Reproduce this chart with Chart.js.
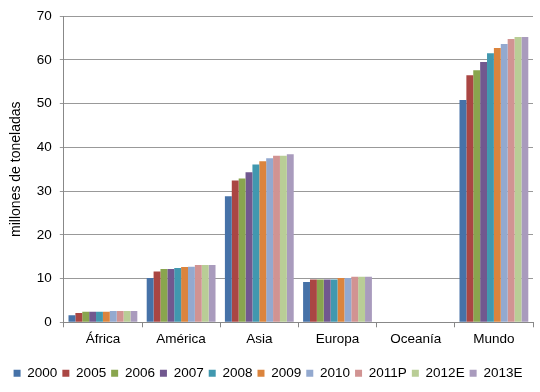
<!DOCTYPE html>
<html>
<head>
<meta charset="utf-8">
<script src="https://cdn.jsdelivr.net/npm/chart.js@4"></script>
<style>
  html, body { margin: 0; padding: 0; background: #fff; }
  #wrap { width: 540px; height: 392px; }
</style>
</head>
<body>
<div id="wrap"><canvas id="myChart" width="540" height="392"></canvas></div>
<script>
const regions = ['África', 'América', 'Asia', 'Europa', 'Oceanía', 'Mundo'];
const years = ['2000', '2005', '2006', '2007', '2008', '2009', '2010', '2011P', '2012E', '2013E'];
const colors = ['#4672A8', '#AA4643', '#89A54E', '#71588F', '#4198AF', '#DB843D', '#93A9CF', '#D19392', '#B9CD96', '#A99BBD'];

// one array per region, values per year
const africa  = [1.6, 2.1, 2.4, 2.4, 2.4, 2.4, 2.6, 2.6, 2.6, 2.6];
const america = [10.1, 11.6, 12.2, 12.2, 12.4, 12.65, 12.7, 13.1, 13.1, 13.1];
const asia    = [28.8, 32.4, 32.9, 34.3, 36.1, 36.8, 37.5, 38.1, 38.1, 38.4];
const europa  = [9.2, 9.8, 9.8, 9.8, 9.8, 10.1, 10.1, 10.4, 10.4, 10.4];
const oceania = [null, null, null, null, null, null, null, null, null, null];
const mundo   = [50.8, 56.5, 57.6, 59.5, 61.5, 62.7, 63.6, 64.75, 65.2, 65.2];

const byRegion = [africa, america, asia, europa, oceania, mundo];
const yTicks = [0, 10, 20, 30, 40, 50, 60, 70];

const datasets = years.map(function (y, i) {
  return {
    label: y,
    data: byRegion.map(r => r[i]),
    backgroundColor: colors[i],
    borderWidth: 0,
    categoryPercentage: 0.88,
    barPercentage: 1.0
  };
});

Chart.defaults.font.family = '"Liberation Sans", Arial, sans-serif';
Chart.defaults.color = '#000';

new Chart(document.getElementById('myChart'), {
  type: 'bar',
  data: { labels: regions, datasets: datasets },
  options: {
    responsive: false,
    animation: false,
    layout: { padding: { top: 16, right: 7, bottom: 2, left: 3 } },
    scales: {
      x: {
        offset: true,
        grid: {
          offset: true,
          drawOnChartArea: false,
          color: '#888',
          tickLength: 5
        },
        border: { color: '#888' },
        ticks: { font: { size: 13.5 }, padding: 4 },
        afterFit: function (scale) { scale.height += 10; }
      },
      y: {
        min: 0,
        max: 70,
        afterBuildTicks: function (axis) {
          axis.ticks = yTicks.map(v => ({ value: v }));
        },
        grid: { color: '#999', tickLength: 4 },
        border: { color: '#888' },
        ticks: { font: { size: 13.5 }, padding: 8 },
        title: {
          display: true,
          text: 'millones de toneladas',
          font: { size: 14 },
          padding: { top: 5, bottom: 4 }
        }
      }
    },
    plugins: {
      legend: {
        position: 'bottom',
        labels: {
          boxWidth: 7,
          boxHeight: 7,
          padding: 5,
          font: { size: 13.5 }
        }
      },
      tooltip: { enabled: false }
    }
  }
});
</script>
</body>
</html>
